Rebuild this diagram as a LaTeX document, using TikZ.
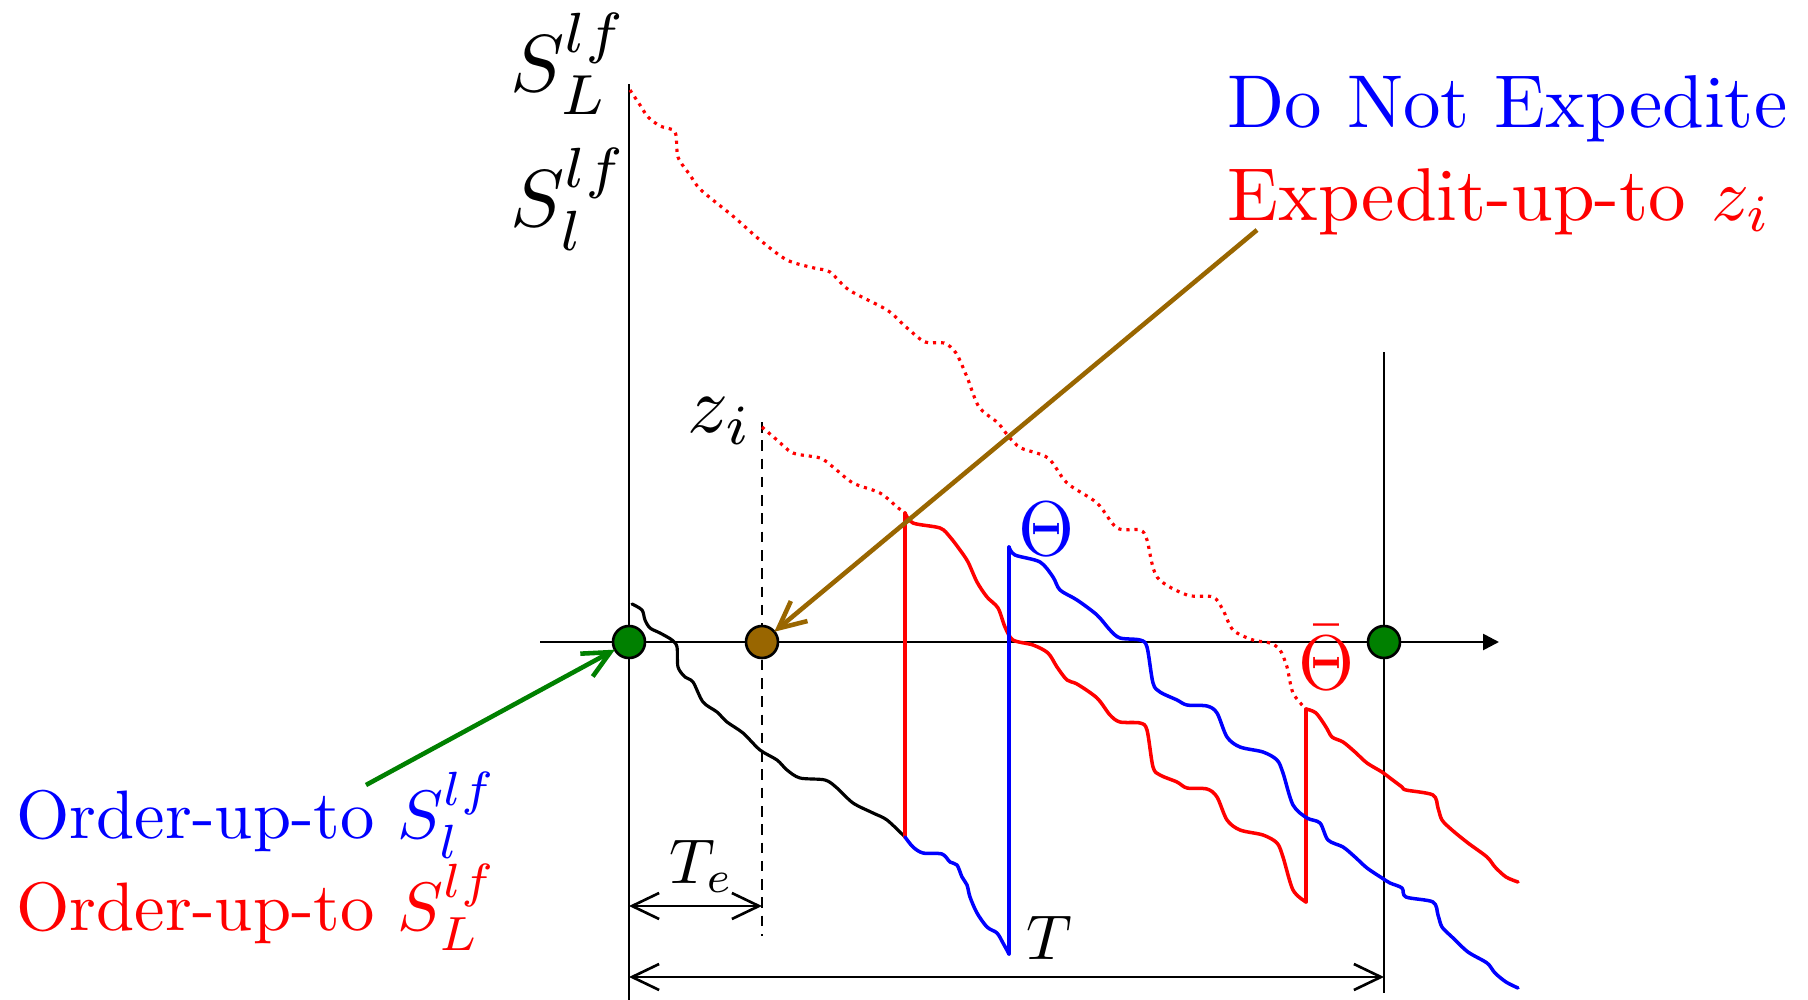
\documentclass[tikz,border=0pt]{standalone}
\usetikzlibrary{arrows.meta}
\definecolor{myred}{RGB}{255,0,0}
\definecolor{myblue}{RGB}{0,0,255}
\definecolor{mygreen}{RGB}{0,128,0}
\definecolor{mybrown}{RGB}{153,102,0}
\begin{document}
\begin{tikzpicture}[x=0.01cm,y=-0.01cm,
  axisline/.style={line width=0.75pt, black},
  curveline/.style={line width=1pt, line join=round, line cap=round},
  dotline/.style={line width=0.9pt, dash pattern=on 0.9pt off 1.4pt},
  dimarrow/.style={line width=0.75pt, {Straight Barb[length=7.7pt,width=7.4pt]}-{Straight Barb[length=7.7pt,width=7.4pt]}},
  pointer/.style={line width=1.3pt, -{Straight Barb[length=7.7pt,width=7.4pt]}},
  event/.style={circle, draw=black, line width=0.75pt, minimum size=0.32cm, inner sep=0pt, outer sep=0pt},
  txtlbl/.style={inner sep=0pt, scale=2.13},
  ordlbl/.style={inner sep=0pt, scale=1.95},
  axlbl/.style={inner sep=0pt, scale=2.3},
  smlbl/.style={inner sep=0pt, scale=1.8},
  thlbl/.style={inner sep=0pt, xscale=2.05, yscale=2.2},
]
\useasboundingbox (0,0) rectangle (1808,1000);

% axes
\draw[axisline] (629,84) -- (629,1000);
\draw[axisline] (1384,352) -- (1384,993);
\draw[axisline, -{Triangle[length=4.5pt,width=4.5pt]}] (540,642) -- (1499,642);
\draw[line width=0.75pt, dash pattern=on 3pt off 2.2pt] (762,422) -- (762,936);

% long dotted red (Expedit-up-to z_i from S_L)
\draw[myred, dotline] plot[smooth, tension=0.5] coordinates {(630,90) (640,105) (648,117) (660,126) (675,132) (678,157) (690,175) (701,190) (734,217) (760,240) (787,260) (814,268) (830,272) (849,290) (887,310) (906,327) (925,342) (944,343) (956,353) (967,377) (979,407) (998,423) (1009,437) (1021,448) (1048,458) (1067,483) (1097,503) (1117,528) (1140,530) (1147,540) (1157,577) (1187,595) (1213,597) (1223,610) (1233,630) (1253,640) (1270,643) (1280,650) (1287,667) (1293,693) (1306,709)};

% short dotted red from z_i
\draw[myred, dotline] plot[smooth, tension=0.5] coordinates {(762,427) (777,440) (793,453) (820,458) (833,467) (853,483) (880,493) (897,507) (905,513)};

% black curve
\draw[black, curveline, line width=0.9pt] plot[smooth, tension=0.5] coordinates {(632,604) (642,610) (645,620) (650,628) (660,633) (672,640) (677,647) (678,667) (685,677) (693,682) (703,702) (717,712) (727,722) (743,733) (760,750) (777,760) (787,770) (800,778) (825,780) (837,788) (853,803) (873,813) (887,820) (905,837)};

% red middle curve
\draw[myred, curveline] (905,837) -- (905,513);
\draw[myred, curveline] plot[smooth, tension=0.5] coordinates {(905,513) (913,523) (940,528) (950,537) (960,550) (968,562) (977,582) (987,597) (998,608) (1005,627) (1013,640) (1033,645) (1048,653) (1057,667) (1067,680) (1077,684) (1097,698) (1110,715) (1120,722) (1140,723) (1147,730) (1153,767) (1160,775) (1177,782) (1187,788) (1207,789) (1217,797) (1227,820) (1240,830) (1263,835) (1277,843) (1283,857) (1293,890) (1306,902)};
\draw[myred, curveline] (1306,902) -- (1306,709);
\draw[myred, curveline] plot[smooth, tension=0.5] coordinates {(1306,709) (1316,713) (1326,727) (1332,737) (1343,742) (1355,752) (1367,763) (1382,772) (1390,778) (1402,787) (1406,790) (1433,795) (1438,808) (1442,820) (1452,830) (1468,843) (1487,857) (1495,867) (1506,877) (1518,882)};

% blue curves
\draw[myblue, curveline] plot[smooth, tension=0.5] coordinates {(905,837) (913,847) (923,853) (942,854) (950,862) (957,865) (962,877) (967,885) (970,897) (977,913) (987,927) (997,933) (1003,943) (1009,954)};
\draw[myblue, curveline] (1009,954) -- (1009,547);
\draw[myblue, curveline] plot[smooth, tension=0.5] coordinates {(1009,547) (1015,555) (1040,562) (1053,577) (1060,590) (1077,600) (1097,615) (1110,630) (1120,638) (1140,640) (1147,647) (1153,683) (1160,692) (1177,700) (1187,705) (1207,706) (1217,713) (1227,737) (1240,747) (1263,752) (1277,760) (1283,773) (1293,805) (1307,818) (1320,823) (1328,840) (1343,847) (1355,857) (1367,868) (1382,878) (1390,883) (1402,888) (1406,897) (1433,902) (1438,915) (1442,927) (1452,937) (1468,952) (1487,963) (1495,973) (1506,982) (1518,988)};

% event points
\node[event, fill=mygreen] (g1) at (629,642) {};
\node[event, fill=mygreen] (g2) at (1384,642) {};
\node[event, fill=mybrown] (b1) at (762,642) {};

% axis labels
\node[axlbl, anchor=base west] (SL) at (509,91) {$S_L^{lf}$};
\node[axlbl, anchor=base west] (Sl) at (509,226) {$S_l^{lf}$};
\node[axlbl, anchor=base west] (zi) at (686,432) {$z_i$};
\node[thlbl, anchor=base, text=myblue] (th) at (1047,555) {$\Theta$};
\node[thlbl, anchor=base, text=myred] (thb) at (1327,689) {$\bar{\Theta}$};

% legends
\node[txtlbl, anchor=base west, text=myblue] (dne) at (1226,127) {Do Not Expedite};
\node[txtlbl, anchor=base west, text=myred] (eut) at (1226,220) {Expedit-up-to $z_i$};
\node[ordlbl, anchor=base west, text=myblue] (oul) at (15,838) {Order-up-to $S_l^{lf}$};
\node[ordlbl, anchor=base west, text=myred] (ouL) at (15,930) {Order-up-to $S_L^{lf}$};

% pointers
\coordinate (gstart) at (366,785);
\coordinate (bstart) at (1257,230);
\draw[pointer, mygreen] (gstart) -- (g1);
\draw[pointer, mybrown] (bstart) -- (b1);

% dimension arrows
\coordinate (te1) at (629,906);
\coordinate (te2) at (762,906);
\coordinate (t1) at (629,977);
\coordinate (t2) at (1384,977);
\draw[dimarrow] (te1) -- (te2);
\draw[dimarrow] (t1) -- (t2);
\node[smlbl, anchor=base west] (Te) at (668,883) {$T_e$};
\node[smlbl, anchor=base west] (Tl) at (1025,959) {$T$};
\end{tikzpicture}
\end{document}
